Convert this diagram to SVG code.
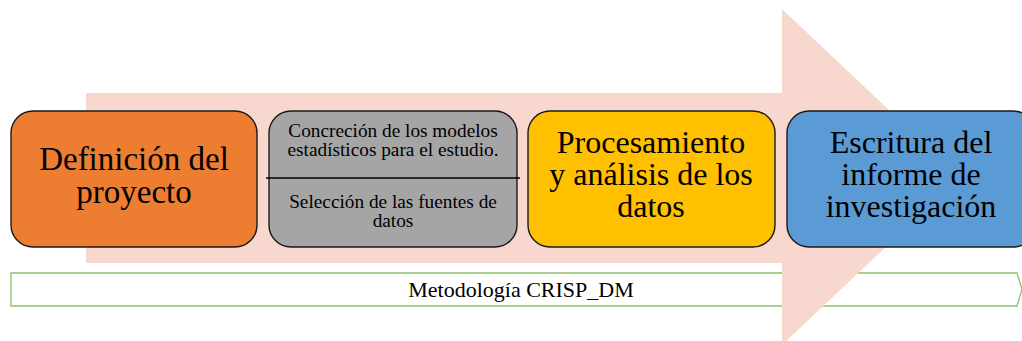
<svg xmlns="http://www.w3.org/2000/svg" width="1022" height="341" viewBox="0 0 1022 341">
<style>
.box{stroke:#1a1a1a;stroke-width:1.4}
.big{font-family:"Liberation Serif","Times New Roman",serif;font-size:33px;fill:#000;text-anchor:middle}
.big3{font-family:"Liberation Serif","Times New Roman",serif;font-size:32px;fill:#000;text-anchor:middle}
.small{font-family:"Liberation Serif","Times New Roman",serif;font-size:19.3px;fill:#000;text-anchor:middle}
.lbl{font-family:"Liberation Serif","Times New Roman",serif;font-size:22px;fill:#000;text-anchor:middle}
</style>
<rect width="1022" height="341" fill="#fff"/>
<g id="band">
<polygon points="11,273 1017,273 1022,289.5 1017,306 11,306" fill="#fff" stroke="#8DC26F" stroke-width="1.3"/>
</g>
<g id="arrow">
<polygon points="86,93 782,93 782,9 960,177 782,345 782,263 86,263" fill="#F8D8CE"/>
</g>
<g id="band-label">
<text class="lbl" x="521" y="297">Metodología CRISP_DM</text>
</g>
<g id="node-definicion">
<rect class="box" x="11" y="111" width="246" height="136" rx="22" fill="#ED7D31"/>
<text class="big" x="134" y="170">Definición del</text>
<text class="big" x="134" y="203">proyecto</text>
</g>
<g id="node-concrecion">
<rect class="box" x="269" y="111" width="248" height="136" rx="22" fill="#A5A5A5"/>
<line x1="266" y1="178" x2="520" y2="178" stroke="#000" stroke-width="1.4"/>
<text class="small" x="393" y="137">Concreción de los modelos</text>
<text class="small" x="393" y="156">estadísticos para el estudio.</text>
<text class="small" x="393" y="208">Selección de las fuentes de</text>
<text class="small" x="393" y="227">datos</text>
</g>
<g id="node-procesamiento">
<rect class="box" x="528" y="111" width="247" height="136" rx="22" fill="#FFC000"/>
<text class="big3" x="651" y="153">Procesamiento</text>
<text class="big3" x="651" y="185">y análisis de los</text>
<text class="big3" x="651" y="217">datos</text>
</g>
<g id="node-escritura">
<rect class="box" x="787" y="111" width="248" height="136" rx="22" fill="#5B9BD5"/>
<text class="big3" x="911" y="153">Escritura del</text>
<text class="big3" x="911" y="185">informe de</text>
<text class="big3" x="911" y="217">investigación</text>
</g>
<g id="connectors"></g>
</svg>
